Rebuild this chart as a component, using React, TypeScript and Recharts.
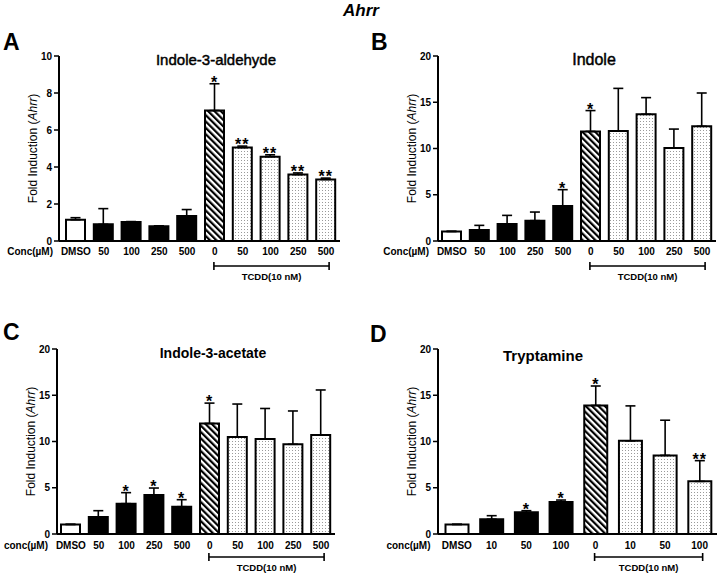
import { BarChart, Bar, XAxis, YAxis, ErrorBar, Cell, LabelList } from "recharts"

const FONT = "'Liberation Sans', Arial, Helvetica, sans-serif"

// x categories
const concLong = ["DMSO", "50", "100", "250", "500", "0", "50", "100", "250", "500"]
const concShort = ["DMSO", "10", "50", "100", "0", "10", "50", "100"]
const groupsLong = ["veh", "low", "low", "low", "low", "tcdd", "mix", "mix", "mix", "mix"]
const groupsShort = ["veh", "low", "low", "low", "tcdd", "mix", "mix", "mix"]

// A: Indole-3-aldehyde
const aldehydeMean = [1.15, 0.9, 1.03, 0.8, 1.35, 7.05, 5.05, 4.56, 3.59, 3.33]
const aldehydeErr = [0.11, 0.85, 0.02, 0.02, 0.35, 1.45, 0.08, 0.1, 0.09, 0.07]
const aldehydeStars = ["", "", "", "", "", "*", "**", "**", "**", "**"]

// B: Indole
const indoleMean = [1.04, 1.19, 1.84, 2.2, 3.78, 11.85, 11.9, 13.7, 10.05, 12.4]
const indoleErr = [0, 0.5, 0.93, 0.93, 1.77, 2.25, 4.6, 1.8, 2.05, 3.6]
const indoleStars = ["", "", "", "", "*", "*", "", "", "", ""]

// C: Indole-3-acetate
const acetateMean = [1.04, 1.84, 3.28, 4.22, 2.95, 11.95, 10.5, 10.27, 9.7, 10.7]
const acetateErr = [0, 0.68, 1.19, 0.75, 0.76, 2.2, 3.55, 3.3, 3.6, 4.87]
const acetateStars = ["", "", "*", "*", "*", "*", "", "", "", ""]

// D: Tryptamine
const tryptMean = [1.04, 1.6, 2.34, 3.45, 13.9, 10.07, 8.5, 5.69]
const tryptErr = [0, 0.38, 0.18, 0.22, 2.1, 3.78, 3.8, 2.24]
const tryptStars = ["", "", "*", "*", "*", "", "", "**"]

const ticks10 = [0, 2, 4, 6, 8, 10]
const ticks20 = [0, 5, 10, 15, 20]

const FILLS: Record<string, string> = {
    veh: "#ffffff",
    low: "#000000",
    tcdd: "url(#hatch)",
    mix: "url(#dots)",
}

type PanelProps = {
    left: number
    top: number
    width: number
    height: number
    margin: { top: number; right: number; bottom: number; left: number }
    yWidth: number
    xHeight: number
    padLeft: number
    yMax: number
    yTicks: number[]
    cats: string[]
    groups: string[]
    mean: number[]
    err: number[]
    stars: string[]
    concLabel: string
    barSize: number
    bracketY: number
    tcddY: number
    labelY: number
}

function Panel(p: PanelProps) {
    const data = p.cats.map((c, i) => ({ cat: c, mean: p.mean[i], err: [0, p.err[i]], star: p.stars[i] }))
    const band = (p.width - p.margin.left - p.margin.right - p.yWidth - p.padLeft) / p.cats.length
    const firstT = p.groups.indexOf("tcdd")
    const nT = p.cats.length - firstT
    const txt = { fontFamily: FONT, fontSize: 10, fontWeight: "bold" as const, fill: "#000" }

    const renderTick = (t: any) => {
        const { x, y, payload, index } = t
        const span = (nT - 1) * band + 4
        return (
            <g>
                <text x={x} y={y + p.labelY} textAnchor="middle" {...txt}>{payload.value}</text>
                {index === 0 && (
                    <text x={x - band / 2 - 9} y={y + p.labelY} textAnchor="end" {...txt}>{p.concLabel}</text>
                )}
                {index === firstT && (
                    <g stroke="#000" strokeWidth={1.6}>
                        <line x1={x - 1} x2={x - 1 + span} y1={y + p.bracketY} y2={y + p.bracketY} />
                        <line x1={x - 1} x2={x - 1} y1={y + p.bracketY - 4} y2={y + p.bracketY + 4} />
                        <line x1={x - 1 + span} x2={x - 1 + span} y1={y + p.bracketY - 4} y2={y + p.bracketY + 4} />
                        <text x={x - 1 + span / 2} y={y + p.tcddY} textAnchor="middle" stroke="none" {...txt} fontSize={9.5}>
                            TCDD(10 nM)
                        </text>
                    </g>
                )}
            </g>
        )
    }

    const renderStar = (l: any) => {
        const { x, y, width, height, index, value } = l
        if (!value) return null
        const perUnit = height / p.mean[index]
        const capY = y - p.err[index] * perUnit
        return (
            <text x={x + width / 2} y={capY + 4} textAnchor="middle" fontFamily={FONT} fontSize={16} fontWeight="bold" letterSpacing={1} fill="#000">
                {value}
            </text>
        )
    }

    const renderYLabel = (l: any) => {
        const vb = l.viewBox
        const cx = vb.x + vb.width - 26
        const cy = vb.y + vb.height / 2
        return (
            <text x={cx} y={cy} transform={`rotate(-90 ${cx} ${cy})`} textAnchor="middle" dominantBaseline="central" fontFamily={FONT} fontSize={12} fill="#000">
                Fold Induction (<tspan fontStyle="italic">Ahrr</tspan>)
            </text>
        )
    }

    return (
        <div style={{ position: "absolute", left: p.left, top: p.top }}>
            <BarChart width={p.width} height={p.height} data={data} margin={p.margin}>
                <XAxis
                    dataKey="cat"
                    interval={0}
                    height={p.xHeight}
                    padding={{ left: p.padLeft, right: 0 }}
                    tickLine={false}
                    tickSize={0}
                    tickMargin={0}
                    axisLine={{ stroke: "#000", strokeWidth: 2 }}
                    tick={renderTick}
                />
                <YAxis
                    width={p.yWidth}
                    domain={[0, p.yMax]}
                    ticks={p.yTicks}
                    allowDataOverflow
                    tickSize={5}
                    tickMargin={2}
                    axisLine={{ stroke: "#000", strokeWidth: 2 }}
                    tickLine={{ stroke: "#000", strokeWidth: 1.5 }}
                    tick={{ fontFamily: FONT, fontSize: 10, fontWeight: "bold", fill: "#000" }}
                    label={{ content: renderYLabel }}
                />
                <Bar dataKey="mean" barSize={p.barSize} stroke="#000" strokeWidth={2} isAnimationActive={false}>
                    {data.map((_, i) => (
                        <Cell key={i} fill={FILLS[p.groups[i]]} />
                    ))}
                    <ErrorBar dataKey="err" direction="y" width={5} stroke="#000" strokeWidth={1.6} />
                    <LabelList dataKey="star" content={renderStar} />
                </Bar>
            </BarChart>
        </div>
    )
}

export default function App() {
    const common = { concLabel: "Conc(\u00b5M)", bracketY: 25, tcddY: 39, labelY: 14 }
    const lower = { bracketY: 23, tcddY: 37, labelY: 15 }
    return (
        <div style={{ position: "absolute", left: 0, top: 0, width: 720, height: 575, background: "#fff", fontFamily: FONT }}>
            <svg width={0} height={0} style={{ position: "absolute" }}>
                <defs>
                    <pattern id="hatch" patternUnits="userSpaceOnUse" width={4.5} height={4.5} patternTransform="rotate(-45)">
                        <rect width={4.5} height={4.5} fill="#fff" />
                        <rect width={2.2} height={4.5} fill="#000" />
                    </pattern>
                    <pattern id="dots" patternUnits="userSpaceOnUse" width={3} height={3}>
                        <rect width={3} height={3} fill="#fff" />
                        <rect x={1} y={1} width={1} height={1} fill="#9a9a9a" />
                    </pattern>
                </defs>
            </svg>

            <Panel
                {...common}
                left={0} top={0} width={360} height={290}
                margin={{ top: 56, right: 20, bottom: 0, left: 0 }}
                yWidth={59} xHeight={49} padLeft={3}
                yMax={10} yTicks={ticks10}
                cats={concLong} groups={groupsLong}
                mean={aldehydeMean} err={aldehydeErr} stars={aldehydeStars}
                barSize={19}
            />
            <Panel
                {...common}
                left={360} top={0} width={360} height={290}
                margin={{ top: 56, right: 4, bottom: 0, left: 0 }}
                yWidth={78} xHeight={49} padLeft={0}
                yMax={20} yTicks={ticks20}
                cats={concLong} groups={groupsLong}
                mean={indoleMean} err={indoleErr} stars={indoleStars}
                barSize={19}
            />
            <Panel
                {...common}
                {...lower}
                concLabel={"conc(\u00b5M)"}
                left={0} top={290} width={360} height={285}
                margin={{ top: 59, right: 25, bottom: 0, left: 0 }}
                yWidth={57} xHeight={41} padLeft={0}
                yMax={20} yTicks={ticks20}
                cats={concLong} groups={groupsLong}
                mean={acetateMean} err={acetateErr} stars={acetateStars}
                barSize={19}
            />
            <Panel
                {...common}
                {...lower}
                concLabel={"conc(\u00b5M)"}
                left={360} top={290} width={360} height={285}
                margin={{ top: 59, right: 3, bottom: 0, left: 0 }}
                yWidth={78} xHeight={41} padLeft={1.5}
                yMax={20} yTicks={ticks20}
                cats={concShort} groups={groupsShort}
                mean={tryptMean} err={tryptErr} stars={tryptStars}
                barSize={23}
            />

            <svg width={720} height={575} style={{ position: "absolute", left: 0, top: 0, pointerEvents: "none" }}>
                <g fontFamily={FONT} fill="#000">
                    <text x={361} y={16} textAnchor="middle" fontSize={17} fontWeight="bold" fontStyle="italic">Ahrr</text>
                    <text x={3} y={50} fontSize={23} fontWeight="bold">A</text>
                    <text x={371} y={50} fontSize={23} fontWeight="bold">B</text>
                    <text x={3} y={340} fontSize={23} fontWeight="bold">C</text>
                    <text x={370} y={342} fontSize={23} fontWeight="bold">D</text>
                    <text x={216} y={65} textAnchor="middle" fontSize={15} stroke="#000" strokeWidth={0.45}>Indole-3-aldehyde</text>
                    <text x={594} y={65} textAnchor="middle" fontSize={16} stroke="#000" strokeWidth={0.45}>Indole</text>
                    <text x={213} y={358} textAnchor="middle" fontSize={14} fontWeight="bold">Indole-3-acetate</text>
                    <text x={543} y={361} textAnchor="middle" fontSize={15} fontWeight="bold">Tryptamine</text>
                </g>
            </svg>
        </div>
    )
}
